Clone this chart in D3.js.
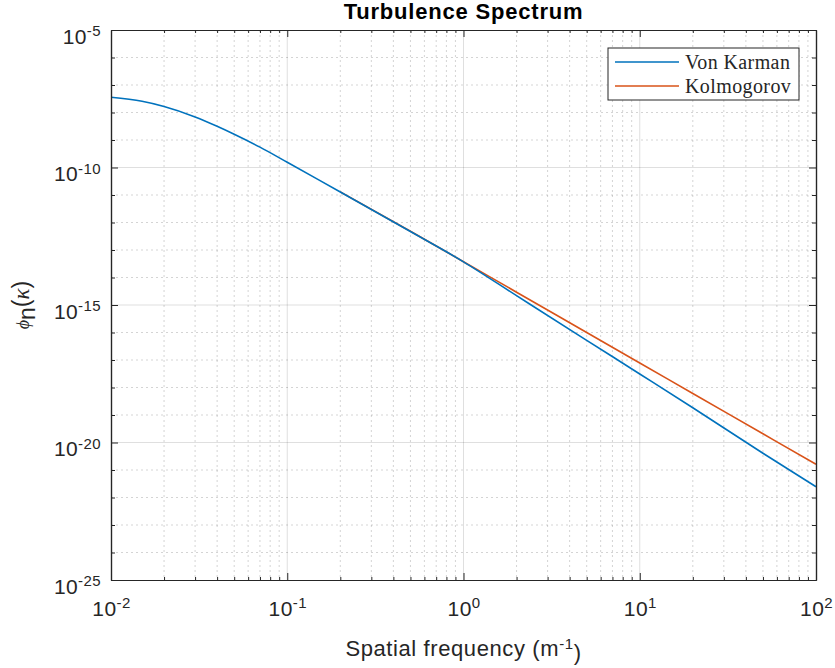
<!DOCTYPE html>
<html lang="en">
<head>
  <meta charset="UTF-8">
  <title>Turbulence Spectrum</title>
  <script src="https://d3js.org/d3.v7.min.js"></script>
  <style>
    body { margin: 0; background: #fff; font-family: "Liberation Sans", Arial, sans-serif; }
    .grid-major { stroke: #262626; stroke-opacity: 0.15; stroke-width: 1; }
    .grid-minor { stroke: #262626; stroke-opacity: 0.2; stroke-width: 1; stroke-dasharray: 2,3; }
    .axis path, .axis line { stroke: #262626; }
    .axis text { fill: #262626; font-size: 21px; letter-spacing: 0.4px; font-family: "Liberation Sans", Arial, sans-serif; }
    .curve { fill: none; stroke-width: 1.6; }
  </style>
</head>
<body>
  <script>
    // spatial frequency (1/m) and spectrum values
    const kVonKarman = [0.01, 0.015, 0.02, 0.03, 0.04, 0.05, 0.07, 0.1, 0.15, 0.2, 0.5, 1, 2, 5, 10, 20, 50, 100];
    const phiVonKarman = [3.57e-8, 2.57e-8, 1.66e-8, 6.92e-9, 3.16e-9, 1.62e-9, 5.50e-10, 1.55e-10, 3.63e-11,
                          1.29e-11, 4.68e-13, 3.72e-14, 2.19e-15, 5.20e-17, 3.10e-18, 1.83e-19, 4.05e-21, 2.47e-22];
    const kKolmogorov = [0.2, 0.5, 1, 2, 5, 10, 20, 50, 100];
    const phiKolmogorov = [1.30e-11, 4.83e-13, 3.76e-14, 2.92e-15, 1.0e-16, 7.78e-18, 6.05e-19, 2.07e-20, 1.61e-21];

    const seriesNames = ["Von Karman", "Kolmogorov"];
    const seriesColors = ["#0072BD", "#D95319"];

    const xTicks = [1e-2, 1e-1, 1e0, 1e1, 1e2];
    const xTickExp = ["-2", "-1", "0", "1", "2"];
    const yTicks = [1e-25, 1e-20, 1e-15, 1e-10, 1e-5];
    const yTickExp = ["-25", "-20", "-15", "-10", "-5"];

    const W = 835, H = 668;
    const margin = { top: 30, right: 19, bottom: 88, left: 111 };
    const width = W - margin.left - margin.right,
          height = H - margin.top - margin.bottom;

    const svg = d3.select("body").append("svg")
        .attr("width", W)
        .attr("height", H);

    const g = svg.append("g")
        .attr("transform", `translate(${margin.left},${margin.top})`);

    const x = d3.scaleLog().domain([1e-2, 1e2]).range([0, width]);
    const y = d3.scaleLog().domain([1e-25, 1e-5]).range([height, 0]);

    // minor tick positions
    const xMinor = [];
    for (let d = -2; d < 2; d++) for (let m = 2; m <= 9; m++) xMinor.push(m * Math.pow(10, d));
    const yMinor = [];
    for (let d = -24; d < -5; d++) if (d % 5 !== 0) yMinor.push(Math.pow(10, d));

    // grid
    g.append("g").selectAll("line").data(xMinor).join("line")
      .attr("class", "grid-minor")
      .attr("x1", d => x(d)).attr("x2", d => x(d))
      .attr("y1", 0).attr("y2", height);
    g.append("g").selectAll("line").data(yMinor).join("line")
      .attr("class", "grid-minor")
      .attr("x1", 0).attr("x2", width)
      .attr("y1", d => y(d)).attr("y2", d => y(d));
    g.append("g").selectAll("line").data(xTicks.slice(1, -1)).join("line")
      .attr("class", "grid-major")
      .attr("x1", d => x(d)).attr("x2", d => x(d))
      .attr("y1", 0).attr("y2", height);
    g.append("g").selectAll("line").data(yTicks.slice(1, -1)).join("line")
      .attr("class", "grid-major")
      .attr("x1", 0).attr("x2", width)
      .attr("y1", d => y(d)).attr("y2", d => y(d));

    // curves
    const line = d3.line()
      .x(d => x(d[0]))
      .y(d => y(d[1]))
      .curve(d3.curveMonotoneX);

    const vk = d3.zip(kVonKarman, phiVonKarman);
    const kol = d3.zip(kKolmogorov, phiKolmogorov);

    g.append("path").datum(kol)
      .attr("class", "curve")
      .attr("stroke", seriesColors[1])
      .attr("d", line);
    g.append("path").datum(vk)
      .attr("class", "curve")
      .attr("stroke", seriesColors[0])
      .attr("d", line);

    // superscript tick labels
    function powLabels(sel, exps, dy) {
      sel.selectAll(".tick text").each(function(d, i) {
        const t = d3.select(this);
        t.text(null);
        if (dy) t.attr("dy", dy);
        t.append("tspan").text("10");
        t.append("tspan").attr("dy", "-0.5em").attr("font-size", "15px").text(exps[i]);
      });
    }

    // axes (ticks point inward like matlab)
    const xAxisMinor = d3.axisBottom(x).tickValues(xMinor).tickSizeInner(-3).tickSizeOuter(0).tickFormat("");
    const xAxisMajor = d3.axisBottom(x).tickValues(xTicks).tickSizeInner(-7).tickSizeOuter(0).tickPadding(21);
    const xTopMinor = d3.axisTop(x).tickValues(xMinor).tickSizeInner(-3).tickSizeOuter(0).tickFormat("");
    const xTopMajor = d3.axisTop(x).tickValues(xTicks).tickSizeInner(-7).tickSizeOuter(0).tickFormat("");

    const yAxisMinor = d3.axisLeft(y).tickValues(yMinor).tickSizeInner(-4).tickSizeOuter(0).tickFormat("");
    const yAxisMajor = d3.axisLeft(y).tickValues(yTicks).tickSizeInner(-7).tickSizeOuter(0).tickPadding(10);
    const yRightMinor = d3.axisRight(y).tickValues(yMinor).tickSizeInner(-4).tickSizeOuter(0).tickFormat("");
    const yRightMajor = d3.axisRight(y).tickValues(yTicks).tickSizeInner(-7).tickSizeOuter(0).tickFormat("");

    const gx = g.append("g").attr("class", "axis").attr("transform", `translate(0,${height})`);
    gx.append("g").call(xAxisMinor);
    gx.append("g").call(xAxisMajor).call(s => powLabels(s, xTickExp));

    const gxt = g.append("g").attr("class", "axis");
    gxt.append("g").call(xTopMinor);
    gxt.append("g").call(xTopMajor);

    const gy = g.append("g").attr("class", "axis");
    gy.append("g").call(yAxisMinor);
    gy.append("g").call(yAxisMajor).call(s => powLabels(s, yTickExp, "0.62em"));

    const gyr = g.append("g").attr("class", "axis").attr("transform", `translate(${width},0)`);
    gyr.append("g").call(yRightMinor);
    gyr.append("g").call(yRightMajor);

    g.selectAll(".axis path.domain").attr("stroke", "#262626").attr("stroke-width", 1.2);

    // title
    svg.append("text")
      .attr("x", margin.left + width / 2)
      .attr("y", 19)
      .attr("text-anchor", "middle")
      .attr("font-size", "22px")
      .attr("font-weight", "bold")
      .attr("letter-spacing", "0.8px")
      .attr("fill", "#000")
      .text("Turbulence Spectrum");

    // x label
    const xl = svg.append("text")
      .attr("x", margin.left + width / 2)
      .attr("y", 656)
      .attr("text-anchor", "middle")
      .attr("font-size", "22px")
      .attr("letter-spacing", "0.6px")
      .attr("fill", "#262626");
    xl.append("tspan").text("Spatial frequency (m");
    xl.append("tspan").attr("dy", "-0.5em").attr("font-size", "15px").text("-1");
    xl.append("tspan").attr("dy", "0.5em").text(")");

    // y label
    const yl = svg.append("text")
      .attr("transform", `translate(29,${margin.top + height / 2}) rotate(-90)`)
      .attr("text-anchor", "middle")
      .attr("font-size", "23px")
      .attr("fill", "#262626");
    yl.append("tspan").attr("font-family", "Liberation Serif, serif").attr("font-style", "italic").attr("font-size", "18px").text("\u03D5");
    yl.append("tspan").attr("dy", "6").text("n");
    yl.append("tspan").attr("dy", "-6").text("(");
    yl.append("tspan").attr("font-family", "Liberation Serif, serif").attr("font-style", "italic").text("\u03BA");
    yl.append("tspan").text(")");

    // legend
    const lg = svg.append("g").attr("transform", "translate(608,48)");
    lg.append("rect")
      .attr("width", 191).attr("height", 52)
      .attr("fill", "#fff")
      .attr("stroke", "#262626")
      .attr("stroke-width", 1);
    seriesNames.forEach((name, i) => {
      const yy = 14 + i * 24;
      lg.append("line")
        .attr("x1", 7).attr("x2", 71)
        .attr("y1", yy).attr("y2", yy)
        .attr("stroke", seriesColors[i])
        .attr("stroke-width", 1.6);
      lg.append("text")
        .attr("x", 77).attr("y", yy)
        .attr("dy", "0.35em")
        .attr("font-family", "Liberation Serif, serif")
        .attr("font-size", "20px")
        .attr("letter-spacing", "0.4px")
        .attr("fill", "#262626")
        .text(name);
    });
  </script>
</body>
</html>
